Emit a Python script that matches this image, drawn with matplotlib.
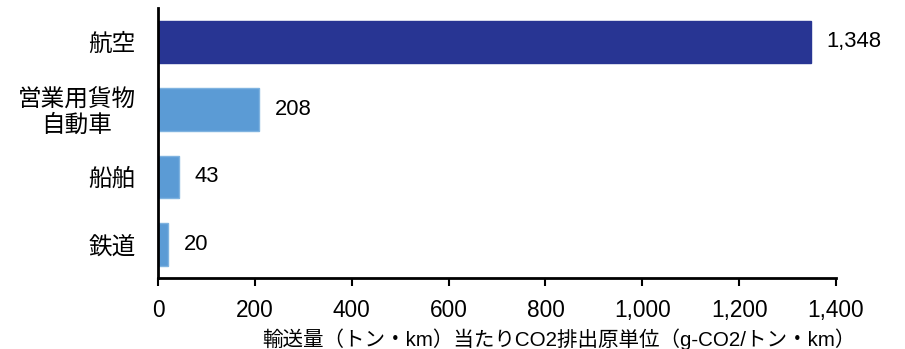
import matplotlib
matplotlib.use("Agg")
import matplotlib.pyplot as plt
from matplotlib.ticker import FuncFormatter

categories = ["航空", "営業用貨物\n自動車", "船舶", "鉄道"]
values = [1348, 208, 43, 20]
colors = ["#283593", "#5B9BD5", "#5B9BD5", "#5B9BD5"]
edges = ["#283593", "#7FB3E0", "#7FB3E0", "#7FB3E0"]
xticks = [0, 200, 400, 600, 800, 1000, 1200, 1400]
xlabel = "輸送量（トン・km）当たりCO2排出原単位（g-CO2/トン・km）"

plt.rcParams["font.family"] = ["Liberation Sans", "Noto Sans CJK JP", "DejaVu Sans"]

fig = plt.figure(figsize=(9.05, 3.49), dpi=100)
ax = fig.add_axes([0.1746, 0.2034, 0.7492, 0.7736])

y = list(range(len(categories)))
ax.barh(y, values, height=0.63, color=colors, edgecolor=edges, linewidth=1)
for yi, v in zip(y, values):
    ax.text(v + 16 * 1400 / 678, yi, f"{v:,}", va="center", ha="left", fontsize=15.8)

ax.set_ylim(3.5, -0.5)
ax.set_xlim(0, 1400)
ax.set_yticks(y)
ax.set_yticklabels(categories, fontsize=17, family=["Noto Sans CJK JP"],
                   linespacing=1.1, ha="right", multialignment="center")
ax.tick_params(axis="y", length=0, pad=16)
ax.set_xticks(xticks)
ax.xaxis.set_major_formatter(FuncFormatter(lambda v, p: f"{int(v):,}"))
ax.tick_params(axis="x", length=6, width=1.5, labelsize=16.3, pad=9, direction="out")

for s in ["top", "right"]:
    ax.spines[s].set_visible(False)
for s in ["left", "bottom"]:
    ax.spines[s].set_linewidth(2)

fig.text(559 / 905, 1 - 339 / 349, xlabel, ha="center", va="center", fontsize=14.8)

fig.savefig("out.png", dpi=100)
